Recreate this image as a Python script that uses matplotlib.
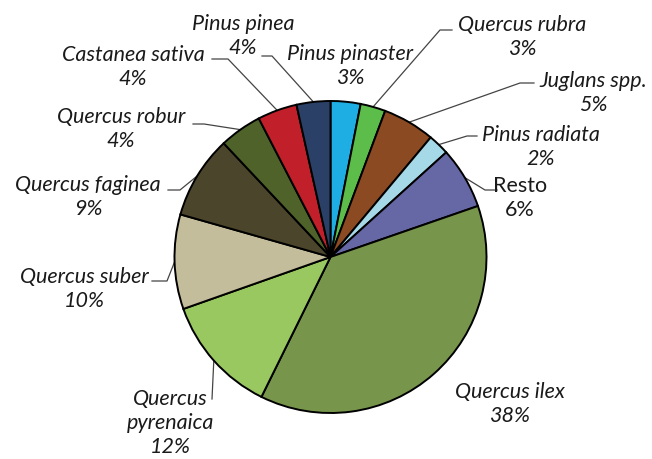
import numpy as np
import matplotlib
matplotlib.use("Agg")
import matplotlib.pyplot as plt
from matplotlib import font_manager

# ---- data ----
species = ["Pinus pinaster", "Quercus rubra", "Juglans spp.", "Pinus radiata", "Resto",
           "Quercus ilex", "Quercus pyrenaica", "Quercus suber", "Quercus faginea",
           "Quercus robur", "Castanea sativa", "Pinus pinea"]
shares = [3.1, 2.6, 5.4, 2.2, 6.4, 37.6, 12.3, 9.8, 8.6, 4.4, 4.1, 3.5]
pct_labels = ["3%", "3%", "5%", "2%", "6%", "38%", "12%", "10%", "9%", "4%", "4%", "4%"]
label_text = ["Pinus pinaster", "Quercus rubra", "Juglans spp.", "Pinus radiata", "Resto",
              "Quercus ilex", "Quercus\npyrenaica", "Quercus suber", "Quercus faginea",
              "Quercus robur", "Castanea sativa", "Pinus pinea"]
colors = ["#1eaee4", "#5cbd4a", "#8c4a22", "#a6d9e7", "#6668a6", "#77964b",
          "#99c860", "#c3bd9b", "#4a452b", "#4f6229", "#c1202b", "#2b4067"]

# ---- layout (pixels) ----
W, H = 652, 460
CX, CY, R = 330.5, 258.0, 156.0
label_pos = [(350, 66), (522, 37), (593, 93), (541, 147), (520, 198), (510, 404),
             (170, 423), (84, 289), (88, 197), (121, 129), (133, 67), (243, 36)]
leaders = [None, ((452, 31), (440, 31)), ((534, 84), (520, 84)), ((477, 137), (467, 137)),
           ((497, 191), (485, 191)), None, ((212, 400), None), ((152, 282), (167, 282)),
           ((168, 191), (180, 191)), ((193, 125), (204, 125)), ((212, 60), (228, 60)),
           ((262, 57), (272, 57))]

def px2d(p):
    return ((p[0] - CX) / R, (CY - p[1]) / R)

avail = {f.name for f in font_manager.fontManager.ttflist}
fam = "Lato" if "Lato" in avail else "DejaVu Sans"

fig = plt.figure(figsize=(W / 100, H / 100), dpi=100)
ax = fig.add_axes([0, 0, 1, 1])

wedges, _ = ax.pie(shares, colors=colors, startangle=90, counterclock=False, radius=1.0,
                   wedgeprops=dict(edgecolor="black", linewidth=1.4))
ax.set_aspect("auto")
ax.set_xlim(-CX / R, (W - CX) / R)
ax.set_ylim(-(H - CY) / R, CY / R)
ax.axis("off")

for i, w in enumerate(wedges):
    txt = label_text[i] + "\n" + pct_labels[i]
    style = "normal" if species[i] == "Resto" else "italic"
    tx, ty = px2d(label_pos[i])
    ax.text(tx, ty, txt, ha="center", va="center", fontsize=15.5, fontstyle=style,
            family=fam, color="#1a1a1a", linespacing=1.25)
    if leaders[i] is not None:
        mid = np.deg2rad((w.theta1 + w.theta2) / 2)
        rim = (np.cos(mid), np.sin(mid))
        start, elbow = leaders[i]
        pts = [px2d(start)]
        if elbow is not None:
            pts.append(px2d(elbow))
        pts.append(rim)
        xs, ys = zip(*pts)
        ax.plot(xs, ys, color="#444444", linewidth=0.9, zorder=0.5)

fig.savefig("out.png", dpi=100)
